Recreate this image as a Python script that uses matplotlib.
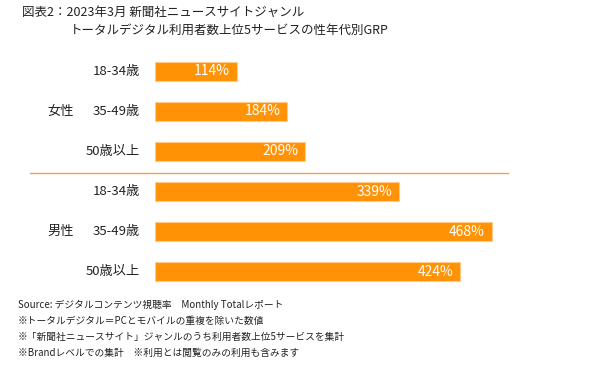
import matplotlib
matplotlib.use("Agg")
import matplotlib.pyplot as plt
from matplotlib.lines import Line2D

plt.rcParams['font.family'] = ['Noto Sans CJK JP', 'DejaVu Sans']

groups = ["女性", "男性"]
ages = ["18-34歳", "35-49歳", "50歳以上", "18-34歳", "35-49歳", "50歳以上"]
values = [114, 184, 209, 339, 468, 424]
title1 = "図表2：2023年3月 新聞社ニュースサイトジャンル"
title2 = "トータルデジタル利用者数上位5サービスの性年代別GRP"
notes = [
    "Source: デジタルコンテンツ視聴率　Monthly Totalレポート",
    "※トータルデジタル＝PCとモバイルの重複を除いた数値",
    "※「新聞社ニュースサイト」ジャンルのうち利用者数上位5サービスを集計",
    "※Brandレベルでの集計　※利用とは閲覧のみの利用も含みます",
]

W, H = 595, 378
fig = plt.figure(figsize=(W / 100, H / 100), dpi=100)

def fx(px):
    return px / W

def fy(py):
    return 1 - py / H

ax_left, ax_w = 155, 380
scale = 0.72
top_px, bot_px = 51, 292
ax = fig.add_axes([fx(ax_left), fy(bot_px), fx(ax_w), (bot_px - top_px) / H])
ax.set_xlim(0, ax_w / scale)
ax.set_ylim(5.5, -0.5)
ax.axis('off')

ypos = list(range(len(values)))
ax.barh(ypos, values, height=0.475, color='#FF9205', edgecolor='#FFC98A', linewidth=0.8)
for y, v in zip(ypos, values):
    ax.text(v - 7 / scale, y, f"{v}%", ha='right', va='center', color='white', fontsize=10)

def ypix(i):
    return 71 + 40.1 * i

for i, lab in enumerate(ages):
    fig.text(fx(140), fy(ypix(i)), lab, ha='right', va='center', fontsize=9.5, color='#222222')

for gi, g in enumerate(groups):
    fig.text(fx(47), fy(ypix(1 + 3 * gi)), g, ha='left', va='center', fontsize=9.5, color='#222222')

fig.add_artist(Line2D([fx(30), fx(508)], [fy(173), fy(173)], color='#F2A24A', linewidth=1.0))

fig.text(fx(22), fy(12), title1, ha='left', va='center', fontsize=9, color='#222222')
fig.text(fx(70), fy(30), title2, ha='left', va='center', fontsize=9, color='#222222')

for k, n in enumerate(notes):
    fig.text(fx(18), fy(305 + 16 * k), n, ha='left', va='center', fontsize=7, color='#222222')

fig.savefig("out.png", dpi=100)
